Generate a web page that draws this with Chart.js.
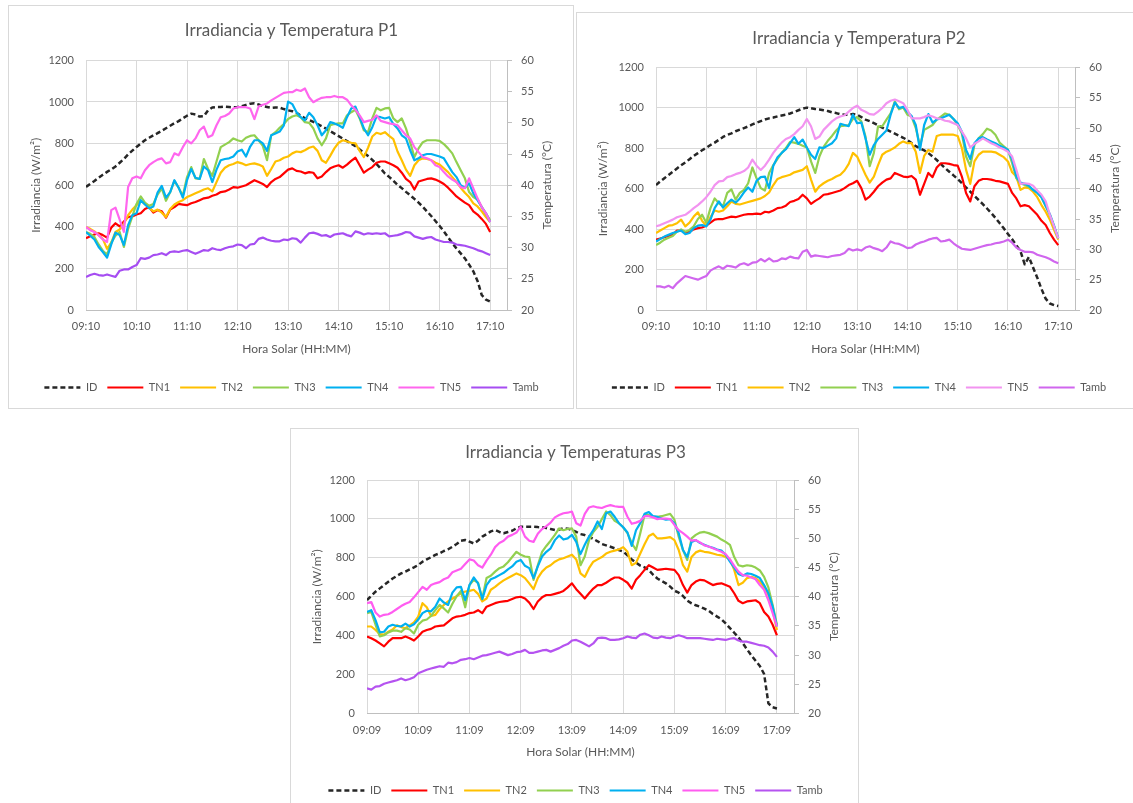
<!DOCTYPE html>
<html><head><meta charset="utf-8">
<script src="https://cdn.jsdelivr.net/npm/chart.js@4.4.1/dist/chart.umd.min.js"></script>
<style>
html,body{margin:0;padding:0;background:#fff;overflow:hidden;width:1133px;height:803px;position:relative}
.panel{position:absolute;background:#fff}
.panel canvas{position:absolute;left:0;top:0}
.frame{position:absolute;border:1px solid #d9d9d9;box-sizing:border-box;pointer-events:none}
</style></head><body>
<div class="panel" style="left:8px;top:5px;width:565px;height:403px"><canvas id="c1" width="565" height="403"></canvas></div>
<div class="frame" style="left:8px;top:5px;width:566px;height:404px"></div>
<div class="panel" style="left:576px;top:12px;width:557px;height:396px"><canvas id="c2" width="557" height="396"></canvas></div>
<div class="frame" style="left:576px;top:12px;width:560px;height:397px"></div>
<div class="panel" style="left:290px;top:428px;width:568px;height:380px"><canvas id="c3" width="568" height="380"></canvas></div>
<div class="frame" style="left:290px;top:428px;width:569px;height:390px"></div>
<script>
// ---- categories (minutes after first reading, every 5 min) ----
const minutes = [0,5,10,15,20,25,30,35,40,45,50,55,60,65,70,75,80,85,90,95,100,105,110,115,120,125,130,135,140,145,150,155,160,165,170,175,180,185,190,195,200,205,210,215,220,225,230,235,240,245,250,255,260,265,270,275,280,285,290,295,300,305,310,315,320,325,330,335,340,345,350,355,360,365,370,375,380,385,390,395,400,405,410,415,420,425,430,435,440,445,450,455,460,465,470,475,480];
const tickMinutes = [0,60,120,180,240,300,360,420,480];
const tickLabelsP12 = ['09:10','10:10','11:10','12:10','13:10','14:10','15:10','16:10','17:10'];
const tickLabelsP3 = ['09:09','10:09','11:09','12:09','13:09','14:09','15:09','16:09','17:09'];
const seriesNames = ['ID','TN1','TN2','TN3','TN4','TN5','Tamb'];

// ---- Panel P1 ----
const p1_ID = [592,606,620,636,650,664,676,690,708,726,748,766,784,800,816,828,840,850,862,874,886,898,908,922,934,944,940,930,932,960,974,976,976,978,976,974,976,980,986,992,994,988,980,976,972,974,973,966,960,956,948,934,922,914,904,894,884,872,860,848,836,824,812,800,788,772,756,740,722,702,680,656,640,622,602,586,568,552,534,516,496,474,452,428,404,378,350,322,296,272,248,218,186,140,72,50,40];
const p1_TN1 = [31.5,31.8,32.1,32.3,32.0,31.6,33.2,33.9,33.4,34.2,34.9,35.0,35.3,35.5,36.2,36.5,35.6,36.0,35.8,34.8,36.1,36.5,37.0,36.9,36.8,37.1,37.3,37.6,37.9,38.0,38.3,38.5,38.9,39.0,39.3,39.7,39.6,39.8,40.0,40.4,40.8,40.5,40.2,39.7,40.5,41.0,41.3,41.9,42.5,42.7,42.3,42.2,41.9,42.1,42.0,41.1,41.4,42.1,42.7,43.0,43.2,42.8,43.3,43.9,44.4,43.2,42.0,42.5,42.9,43.6,43.8,43.8,43.5,43.2,42.8,42.0,41.0,40.5,39.3,40.6,40.8,41.0,41.1,40.9,40.6,40.2,39.6,38.9,38.2,37.7,37.2,36.8,35.8,35.3,34.6,33.8,32.5];
const p1_TN2 = [33.3,33.0,32.6,32.0,31.4,29.8,30.8,32.5,32.9,33.8,35.2,36.1,36.8,37.5,37.0,36.4,35.8,36.1,35.6,34.9,36.2,36.9,37.3,37.6,38.1,38.4,38.7,39.0,39.3,39.5,39.0,40.5,42.0,42.8,43.2,43.4,43.7,43.5,43.2,43.4,43.5,43.3,43.0,41.5,42.6,43.8,44.0,44.4,44.6,45.1,45.4,45.3,45.6,46.0,46.2,45.5,44.0,43.6,44.7,45.9,46.8,47.2,47.0,46.8,46.7,45.5,44.5,46.0,47.8,48.4,48.2,48.5,47.9,47.4,45.4,44.0,42.5,41.5,43.2,44.0,44.3,44.2,44.0,43.6,43.3,42.7,42.1,41.3,40.5,39.6,38.8,38.1,37.1,36.6,35.8,34.9,34.1];
const p1_TN3 = [32.5,32.2,31.7,30.5,29.5,28.9,30.8,31.9,32.5,30.1,33.0,35.0,37.0,38.2,37.2,36.7,37.0,38.5,39.5,37.5,38.9,40.7,39.6,38.3,41.3,42.9,41.1,41.0,44.2,42.6,41.5,43.8,46.1,46.5,46.9,47.5,47.2,47.0,47.6,47.9,48.0,47.2,46.3,44.0,48.0,48.5,49.2,49.8,50.6,51.0,51.2,50.9,50.1,50.0,49.1,47.5,46.4,47.5,49.6,49.8,49.9,49.9,51.2,51.7,52.1,50.7,48.8,48.5,50.7,52.4,52.0,52.3,52.4,50.7,50.1,50.7,49.1,46.9,44.5,45.9,46.9,47.2,47.2,47.2,47.1,46.6,45.9,45.1,43.7,42.4,41.1,38.9,38.1,37.7,36.5,35.4,34.4];
const p1_TN4 = [32.5,31.9,31.3,30.1,29.3,28.4,30.5,32.4,32.0,30.4,33.6,35.2,35.5,37.6,36.9,36.3,36.6,38.8,39.9,38.0,38.9,40.8,39.6,38.0,40.8,42.6,41.2,41.0,43.0,42.4,40.5,42.5,44.0,44.2,44.3,44.6,45.4,45.7,44.6,46.2,47.2,47.2,46.7,45.5,48.0,48.3,48.6,49.6,53.4,53.0,51.7,50.9,50.4,51.6,50.9,49.6,48.0,48.8,50.1,49.9,49.6,49.2,50.9,52.3,52.6,50.9,49.1,48.0,49.3,51.0,50.9,50.7,50.9,49.8,49.1,48.0,47.5,45.6,44.0,44.3,44.8,45.0,45.0,44.8,44.6,44.3,43.2,42.1,41.3,40.0,39.6,40.3,38.7,37.6,36.5,35.5,34.1];
const p1_TN5 = [33.3,32.8,32.5,32.0,31.3,30.9,36.0,36.4,34.5,32.5,39.7,41.1,41.4,41.1,42.4,43.2,43.7,44.1,44.3,43.5,43.7,45.1,44.8,46.1,47.2,46.7,47.5,48.8,49.4,47.7,48.0,49.6,50.9,51.1,51.5,52.3,52.5,52.5,52.5,52.3,50.6,52.6,52.9,53.1,53.6,54.0,54.4,54.8,54.9,54.9,55.3,55.1,55.5,54.1,53.3,53.7,54.0,54.1,54.1,54.3,54.1,54.1,53.7,52.8,52.1,51.2,50.1,50.3,50.5,51.2,50.3,50.1,49.9,49.8,49.6,48.8,48.0,47.5,46.1,45.3,44.5,44.3,44.0,43.2,42.9,42.1,41.4,40.9,40.5,39.7,39.5,41.1,39.5,37.9,36.5,35.5,34.1];
const p1_Tamb = [25.3,25.6,25.8,25.6,25.5,25.7,25.5,25.3,26.3,26.5,26.5,26.9,27.2,28.3,28.2,28.4,28.8,28.9,29.1,28.8,29.3,29.4,29.3,29.5,29.6,29.3,29.0,29.3,29.6,29.5,29.9,29.7,29.6,29.9,30.1,30.2,30.5,30.4,29.9,30.5,30.6,31.4,31.6,31.3,31.1,31.0,31.0,31.3,31.2,31.5,31.4,30.8,31.6,32.3,32.4,32.2,31.9,32.0,31.7,32.1,32.2,32.3,32.0,31.8,32.6,32.4,32.1,32.3,32.2,32.3,32.2,32.3,31.8,31.9,32.0,32.2,32.5,32.4,31.8,31.6,31.4,31.6,31.7,31.3,31.1,30.9,30.9,30.8,30.5,30.4,30.3,30.1,29.9,29.6,29.4,29.1,28.8];

// ---- Panel P2 ----
const p2_ID = [618,636,652,668,684,700,716,730,746,762,776,790,802,816,828,842,856,866,874,884,892,900,908,918,926,934,942,948,952,958,962,966,972,980,988,996,1001,998,994,992,988,984,978,974,968,966,966,970,966,954,942,934,924,914,902,892,882,872,862,852,840,826,810,800,790,776,760,742,722,702,684,666,648,628,606,586,564,544,524,502,480,456,430,404,376,350,320,290,226,262,210,160,104,56,32,24,20];
const p2_TN1 = [31.6,31.8,32.0,32.2,32.4,33.1,33.1,32.8,32.9,33.3,33.5,33.6,33.9,34.4,34.9,35.0,35.0,35.2,35.4,35.3,35.5,35.7,35.8,35.8,35.9,35.8,36.2,36.1,36.4,36.8,36.9,37.2,37.8,38.0,38.3,39.0,38.4,37.5,38.0,38.4,39.0,39.1,39.3,39.5,39.7,40.1,40.6,40.9,41.3,40.1,38.2,38.7,39.5,40.4,41.0,41.5,41.7,42.6,42.3,42.0,41.9,42.1,41.5,39.0,40.8,42.6,41.9,43.5,44.2,44.2,44.1,43.9,43.8,42.0,39.3,37.9,40.4,41.3,41.6,41.6,41.5,41.3,41.2,41.0,40.8,39.3,38.4,37.1,37.3,37.1,36.4,35.7,34.7,34.0,32.7,31.6,30.7];
const p2_TN2 = [32.7,33.1,33.5,33.9,34.0,34.3,34.9,33.8,34.4,35.4,36.1,34.7,33.9,35.3,36.4,36.2,36.4,37.1,37.9,37.5,37.4,37.6,37.8,38.0,38.2,38.4,38.8,39.4,40.6,41.6,41.9,42.1,42.3,42.7,42.9,43.1,43.7,41.5,39.5,40.4,40.9,41.3,41.6,42.0,42.3,43.0,44.1,45.9,45.3,43.8,42.3,41.0,42.0,43.9,45.6,46.1,46.4,46.8,47.4,47.8,47.5,47.5,46.1,42.6,45.4,46.4,46.1,48.7,48.9,48.9,48.9,48.9,48.7,46.7,43.1,40.8,44.5,45.6,46.1,46.1,46.1,46.0,45.6,45.2,44.5,42.7,42.0,39.8,40.2,40.1,39.5,38.6,37.3,36.2,34.9,33.2,31.6];
const p2_TN3 = [30.7,31.1,31.6,31.9,32.2,32.9,33.3,32.9,33.2,33.8,35.0,35.7,34.4,36.8,38.4,37.6,37.1,39.3,39.9,38.2,39.3,39.8,40.9,43.5,41.7,40.1,39.7,42.6,43.9,44.9,45.9,46.7,47.7,47.6,47.4,47.1,46.8,44.5,42.6,45.3,46.9,47.9,48.7,49.6,50.3,50.4,50.5,51.5,51.8,51.1,48.6,43.7,45.9,50.3,50.3,51.4,52.4,54.4,53.1,53.4,52.2,51.9,50.0,47.1,49.7,50.1,50.5,51.4,51.9,52.4,52.2,51.5,50.5,49.1,45.3,43.7,47.2,48.3,49.0,49.9,49.6,48.9,47.6,47.0,46.4,44.2,41.7,40.9,40.6,40.3,39.8,39.4,38.6,37.1,35.7,33.8,31.8];
const p2_TN4 = [31.3,31.7,32.1,32.4,32.7,32.9,33.1,32.5,32.7,33.5,33.9,34.0,33.8,34.9,36.8,37.9,36.9,37.6,38.2,37.7,38.4,39.4,40.2,39.5,41.3,41.9,42.0,40.1,43.8,45.2,45.9,46.5,47.5,48.5,47.4,48.1,46.8,45.6,44.9,46.8,46.7,47.1,47.5,48.3,50.7,50.5,50.3,52.2,50.8,50.9,48.3,45.6,47.2,48.2,48.9,49.6,52.2,54.2,53.3,53.5,52.7,52.0,50.5,46.4,50.5,52.3,50.9,51.4,51.6,51.9,52.2,51.5,50.8,49.4,46.4,44.9,47.5,48.3,48.5,48.1,47.8,47.5,47.1,46.8,46.4,44.8,42.0,41.0,40.8,40.5,39.8,39.3,38.6,37.2,35.8,33.9,31.8];
const p2_TN5 = [33.8,34.0,34.3,34.6,34.9,35.3,35.5,35.7,36.2,36.8,37.3,37.9,38.6,39.5,40.6,41.2,41.3,41.9,42.1,42.4,42.6,42.9,43.5,44.8,43.8,43.1,43.8,44.8,45.9,46.8,47.6,48.2,48.5,49.0,49.7,50.3,51.5,50.3,48.2,48.6,49.7,50.4,51.1,51.6,51.9,52.1,52.7,53.3,53.7,53.0,52.7,52.3,52.2,52.7,53.3,54.1,54.5,54.7,54.4,54.1,53.0,51.6,51.6,51.6,51.8,52.1,51.9,51.6,51.5,51.2,51.1,50.8,50.5,49.4,48.3,46.8,47.4,47.8,48.3,47.9,47.5,47.2,46.8,46.5,46.1,45.3,43.1,40.8,40.9,40.8,40.5,39.7,39.0,37.9,35.7,33.8,31.8];
const p2_Tamb = [23.9,23.9,23.7,24.0,23.6,24.4,25.0,25.6,25.4,25.2,25.0,25.3,25.6,26.5,26.9,27.2,26.8,27.3,27.2,27.0,27.5,27.7,27.4,27.8,27.9,28.4,28.0,28.5,28.0,28.1,28.5,28.4,28.8,28.6,28.5,29.6,29.9,28.8,29.0,28.9,28.8,28.7,28.9,29.0,29.1,29.4,30.1,29.8,30.0,29.8,30.3,30.5,30.2,30.0,29.7,30.3,31.3,31.0,30.9,30.6,30.2,30.3,30.8,31.1,31.3,31.6,31.8,31.9,31.3,31.4,31.6,31.0,30.5,30.1,30.0,29.9,30.1,30.3,30.5,30.7,30.8,31.0,31.1,31.3,31.6,31.1,30.3,29.9,29.6,29.6,29.5,29.1,28.9,28.7,28.4,28.0,27.7];

// ---- Panel P3 ----
const p3_ID = [583,604,626,643,660,677,694,707,720,729,741,751,763,780,792,803,815,823,835,844,857,871,888,892,883,874,888,909,922,936,943,933,926,933,939,952,960,960,960,960,958,957,953,948,943,946,952,950,943,933,922,917,909,897,885,871,864,857,849,840,832,813,792,775,760,751,737,713,694,681,669,652,631,621,604,580,566,556,549,539,528,511,498,484,463,439,415,391,361,330,299,271,244,203,52,32,26];
const p3_TN1 = [33.2,32.9,32.5,32.0,31.5,32.3,32.9,32.9,32.9,33.2,32.9,32.5,33.2,34.0,34.3,34.5,34.9,35.0,35.1,35.7,36.3,36.6,36.7,36.9,37.2,37.3,37.7,37.2,38.3,38.6,38.9,39.1,39.2,39.3,39.6,39.9,40.0,39.7,39.0,37.9,39.2,39.9,40.3,40.3,40.5,40.7,41.0,41.6,42.3,41.3,40.5,39.7,40.6,41.4,42.0,42.0,42.4,42.9,43.3,43.3,42.9,42.4,41.4,42.9,43.7,44.6,45.4,45.0,44.6,44.7,44.8,44.7,44.6,43.7,42.0,40.7,42.0,42.6,42.9,42.8,42.4,42.0,42.2,42.3,42.0,41.7,40.6,39.3,38.9,39.2,39.3,39.4,38.9,37.4,36.6,35.2,33.4];
const p3_TN2 = [34.9,34.9,34.3,33.6,33.5,34.0,34.4,35.1,34.8,34.6,35.1,35.6,36.6,38.9,38.2,36.7,36.9,37.9,38.6,39.2,39.7,40.1,40.6,40.9,41.0,41.2,40.5,39.2,39.7,41.2,41.7,42.3,42.8,43.2,43.6,44.0,43.7,43.2,42.3,41.3,43.2,44.3,45.0,45.4,46.0,46.4,46.6,46.9,47.2,46.4,44.0,43.4,44.9,46.0,46.4,46.8,47.4,47.7,47.9,48.1,48.5,47.7,45.4,45.8,47.4,49.0,50.4,50.8,50.0,50.0,50.1,50.2,49.7,48.0,45.4,44.3,46.8,47.6,47.9,47.7,47.6,47.4,47.2,47.1,46.8,46.4,44.6,42.0,42.4,43.2,43.4,43.2,42.6,41.6,40.3,37.7,34.3];
const p3_TN3 = [37.2,37.4,35.2,33.2,33.4,33.9,34.2,34.2,34.0,34.6,34.4,33.7,35.2,35.9,36.1,36.7,37.7,38.6,38.0,37.3,38.8,40.1,41.0,38.2,42.0,42.9,42.4,39.7,43.2,43.6,44.3,44.9,45.2,45.9,46.8,47.7,47.2,46.9,46.8,42.9,45.4,47.7,48.7,49.6,50.6,51.7,51.4,51.6,51.7,50.3,45.4,46.9,49.7,51.1,52.0,53.3,54.6,54.0,53.0,52.6,51.9,50.9,49.2,48.0,50.9,54.0,54.0,53.7,53.7,53.8,54.0,54.2,53.2,50.3,48.0,46.3,50.0,50.6,51.0,51.1,50.9,50.6,50.3,49.8,49.4,48.9,46.8,45.4,45.2,45.4,45.3,45.0,44.5,43.4,41.6,38.6,35.2];
const p3_TN4 = [37.4,37.7,36.0,33.9,34.0,34.9,35.2,35.0,34.9,35.4,34.9,35.3,36.1,37.2,37.6,37.5,38.3,39.7,39.0,38.6,40.7,41.6,41.7,39.4,42.0,43.3,42.3,39.6,42.0,43.0,43.3,43.7,44.1,44.7,45.2,46.0,46.3,45.3,44.9,43.2,45.2,46.9,47.7,48.3,49.7,50.5,49.8,50.0,50.6,49.4,47.3,48.9,50.3,51.4,52.9,51.6,54.3,54.6,53.7,52.6,51.9,51.0,48.7,51.4,52.6,54.2,54.5,53.8,53.7,53.4,53.2,53.3,52.6,50.9,48.0,46.8,49.4,49.7,49.2,48.9,48.6,48.4,48.1,47.9,47.2,46.0,45.0,43.9,43.6,44.0,43.9,43.6,43.2,42.0,40.6,38.3,34.9];
const p3_TN5 = [38.9,39.1,37.3,36.6,36.9,37.0,37.4,37.9,38.4,38.8,39.1,39.9,40.8,41.7,41.2,42.0,42.3,42.5,43.0,43.3,44.2,44.5,44.8,45.6,46.4,46.2,45.4,45.0,46.2,47.2,48.5,49.2,49.6,50.3,50.6,51.0,52.0,50.3,49.6,49.4,50.8,51.6,52.1,52.7,53.6,54.0,54.3,54.4,54.6,52.6,52.2,54.2,55.3,55.5,55.3,55.2,55.5,55.7,55.5,55.4,55.4,53.7,52.5,52.7,53.0,53.8,53.8,53.6,53.3,53.4,53.4,53.3,52.3,51.4,50.9,50.3,49.6,49.7,49.3,48.8,48.6,48.3,48.0,47.7,47.3,46.4,45.3,44.3,43.7,43.6,43.3,43.0,42.0,41.2,39.4,37.2,34.9];
const p3_Tamb = [24.3,24.1,24.6,24.7,25.1,25.3,25.5,25.7,26.0,25.7,25.9,26.2,26.9,27.2,27.5,27.7,27.9,28.1,28.0,28.7,28.6,28.8,29.2,29.3,29.5,29.3,29.6,29.9,30.0,30.2,30.4,30.6,30.3,30.0,30.2,30.5,30.6,30.9,30.4,30.4,30.6,30.8,30.9,30.6,30.9,31.2,31.6,31.9,32.5,32.6,32.3,31.9,31.5,32.0,32.9,33.0,32.9,32.6,32.6,32.7,32.9,33.2,33.0,32.9,33.5,33.7,33.4,33.0,32.9,33.2,33.0,32.9,33.2,33.4,33.2,32.9,32.9,32.9,32.9,32.8,32.7,32.6,32.8,32.7,32.6,32.8,32.9,32.5,32.3,32.3,32.1,31.9,31.7,31.6,31.3,30.6,29.7];

// ---- drawing ----
const FONT = "Lato, 'Open Sans', 'DejaVu Sans', sans-serif";
const TXT = '#595959';
const GRID = '#d9d9d9';
const AXIS = '#bfbfbf';

const rightTitle = {
  id: 'rightTitle',
  afterDraw(chart, args, opts) {
    const s = chart.scales.y1, ctx = chart.ctx;
    ctx.save();
    ctx.font = '12px ' + FONT;
    ctx.fillStyle = TXT;
    ctx.textAlign = 'center';
    ctx.textBaseline = 'middle';
    ctx.translate(s.right - 7, (s.top + s.bottom) / 2);
    ctx.rotate(-Math.PI / 2);
    ctx.fillText(opts.text, 0, 0);
    ctx.restore();
  }
};

function legendLabels(chart) {
  const items = Chart.defaults.plugins.legend.labels.generateLabels(chart);
  items.forEach(it => {
    const ds = chart.data.datasets[it.datasetIndex];
    it.lineDash = ds.borderDash || [];
    it.lineWidth = ds.borderWidth;
    it.strokeStyle = ds.borderColor;
    it.fillStyle = ds.borderColor;
    it.lineCap = 'butt';
  });
  return items.sort((a, b) => a.datasetIndex - b.datasetIndex);
}

function buildChart(id, title, tickLabels, series, colors, lay) {
  const datasets = seriesNames.map((n, i) => ({
    label: n,
    data: series[i],
    yAxisID: i === 0 ? 'y' : 'y1',
    borderColor: colors[i],
    backgroundColor: colors[i],
    borderWidth: i === 0 ? 2.5 : 2.2,
    borderDash: i === 0 ? [5, 3] : [],
    pointRadius: 0,
    pointHoverRadius: 0,
    tension: 0,
    fill: false,
    order: seriesNames.length - 1 - i
  }));
  return new Chart(document.getElementById(id), {
    type: 'line',
    data: { labels: minutes, datasets },
    plugins: [rightTitle],
    options: {
      responsive: false,
      animation: false,
      devicePixelRatio: 1,
      events: [],
      elements: { line: { borderJoinStyle: 'round' } },
      layout: { padding: { left: lay.padL, right: lay.padR, top: 0, bottom: lay.padB } },
      plugins: {
        title: { display: true, text: title, color: TXT, font: { family: FONT, size: 17, weight: 'normal' }, padding: { top: lay.tTop, bottom: lay.tBot } },
        legend: { position: 'bottom', labels: { usePointStyle: true, pointStyle: 'line', pointStyleWidth: 36, color: TXT, font: { family: FONT, size: 11 }, padding: 10,
                  generateLabels: legendLabels } },
        tooltip: { enabled: false },
        rightTitle: { text: 'Temperatura (°C)' }
      },
      scales: {
        x: {
          type: 'linear', min: 0, max: 500,
          afterBuildTicks: s => { s.ticks = tickMinutes.map(v => ({ value: v })); },
          afterFit: s => { s.height = lay.hX; },
          ticks: { autoSkip: false, maxRotation: 0, padding: 10, color: TXT, font: { family: FONT, size: 11 },
                   callback: (v, i) => tickLabels[i] },
          grid: { color: GRID, drawTicks: false },
          border: { color: AXIS },
          title: { display: true, text: 'Hora Solar (HH:MM)', color: TXT, font: { family: FONT, size: 12 }, padding: { top: 0, bottom: lay.xtb } }
        },
        y: {
          position: 'left', min: 0, max: 1200,
          afterFit: s => { s.width = lay.wL; },
          ticks: { stepSize: 200, padding: 12, color: TXT, font: { family: FONT, size: 11 }, callback: v => String(v) },
          grid: { color: GRID, drawTicks: false },
          border: { display: false },
          title: { display: true, text: 'Irradiancia (W/m²)', color: TXT, font: { family: FONT, size: 12 }, padding: 0 }
        },
        y1: {
          position: 'right', min: 20, max: 60,
          afterFit: s => { s.width = lay.wR; },
          ticks: { stepSize: 5, padding: 9, color: TXT, font: { family: FONT, size: 11 }, callback: v => String(v) },
          grid: { drawOnChartArea: false, drawTicks: true, tickLength: 5, color: AXIS },
          border: { color: AXIS },
          title: { display: false }
        }
      }
    }
  });
}

const baseColors = ['#262626', '#FF0000', '#FFC000', '#92D050', '#00B0F0'];
buildChart('c1', 'Irradiancia y Temperatura P1', tickLabelsP12,
  [p1_ID, p1_TN1, p1_TN2, p1_TN3, p1_TN4, p1_TN5, p1_Tamb],
  baseColors.concat(['#FF66EE', '#A64DF2']),
  { padL: 21, padR: 19, padB: 5, wL: 57, wR: 47, hX: 62, tTop: 15, tBot: 20, xtb: 16 });
buildChart('c2', 'Irradiancia y Temperatura P2', tickLabelsP12,
  [p2_ID, p2_TN1, p2_TN2, p2_TN3, p2_TN4, p2_TN5, p2_Tamb],
  baseColors.concat(['#F293F0', '#D066EE']),
  { padL: 20, padR: 11, padB: 5, wL: 60, wR: 47, hX: 62, tTop: 16, tBot: 19, xtb: 16 });
buildChart('c3', 'Irradiancia y Temperaturas P3', tickLabelsP3,
  [p3_ID, p3_TN1, p3_TN2, p3_TN3, p3_TN4, p3_TN5, p3_Tamb],
  baseColors.concat(['#FF5CF0', '#B553F0']),
  { padL: 20, padR: 17, padB: 2, wL: 57, wR: 47, hX: 61.5, tTop: 14, tBot: 17.6, xtb: 16 });
</script>
</body></html>
